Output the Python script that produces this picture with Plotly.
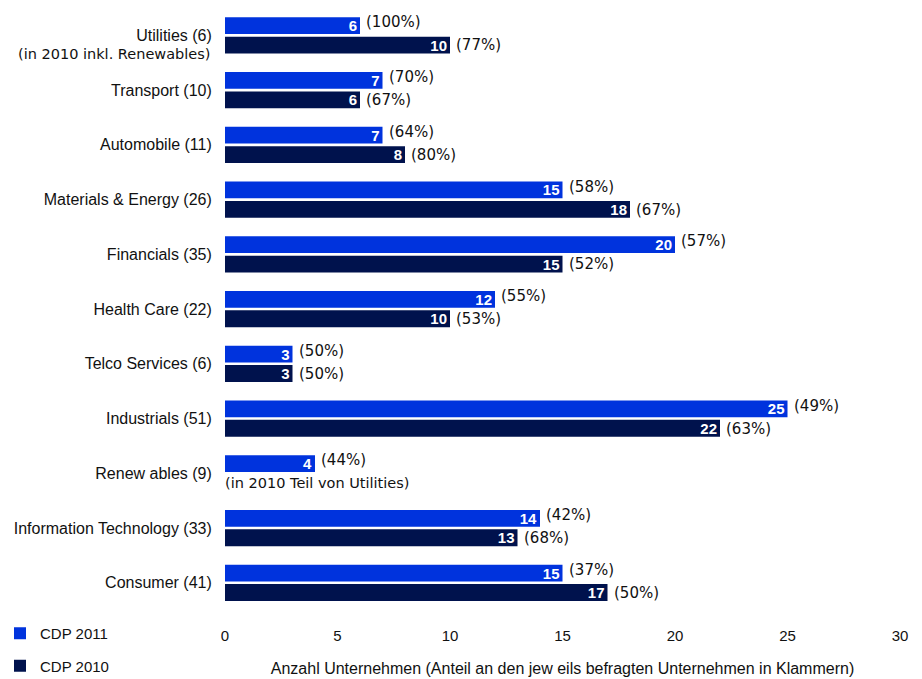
import plotly.graph_objects as go

categories = ["Utilities (6)", "Transport (10)", "Automobile (11)", "Materials & Energy (26)",
              "Financials (35)", "Health Care (22)", "Telco Services (6)", "Industrials (51)",
              "Renew ables (9)", "Information Technology (33)", "Consumer (41)"]
cdp2011 = [6, 7, 7, 15, 20, 12, 3, 25, 4, 14, 15]
cdp2010 = [10, 6, 8, 18, 15, 10, 3, 22, None, 13, 17]
pct2011 = [100, 70, 64, 58, 57, 55, 50, 49, 44, 42, 37]
pct2010 = [77, 67, 80, 67, 52, 53, 50, 63, None, 68, 50]
xticks = [0, 5, 10, 15, 20, 25, 30]

BLUE = "#0033DD"
NAVY = "#00124D"
LABEL_FONT = "Liberation Sans, Arial, sans-serif"
PCT_FONT = "DejaVu Sans, Verdana, sans-serif"
TXT = "#111111"

fig = go.Figure()
fig.add_trace(go.Bar(
    y=categories, x=cdp2011, orientation="h", name="CDP 2011",
    marker=dict(color=BLUE, line=dict(width=0)),
    text=[str(v) for v in cdp2011], textposition="inside", insidetextanchor="end", textangle=0,
    textfont=dict(color="white", size=15, family=LABEL_FONT, weight="bold"),
    legendgroup="a", hoverinfo="skip"))
fig.add_trace(go.Bar(
    y=categories, x=cdp2010, orientation="h", name="CDP 2010",
    marker=dict(color=NAVY, line=dict(width=0)),
    text=["" if v is None else str(v) for v in cdp2010], textposition="inside",
    insidetextanchor="end", textangle=0,
    textfont=dict(color="white", size=15, family=LABEL_FONT, weight="bold"),
    legendgroup="b", hoverinfo="skip"))

annotations = []
for cat, v, p in zip(categories, cdp2011, pct2011):
    annotations.append(dict(x=v, y=cat, xref="x", yref="y", text=f"({p}%)", showarrow=False,
                            xanchor="left", yanchor="middle", xshift=4, yshift=13,
                            font=dict(family=PCT_FONT, size=15, color=TXT)))
for cat, v, p in zip(categories, cdp2010, pct2010):
    if v is None:
        continue
    annotations.append(dict(x=v, y=cat, xref="x", yref="y", text=f"({p}%)", showarrow=False,
                            xanchor="left", yanchor="middle", xshift=4, yshift=-10,
                            font=dict(family=PCT_FONT, size=15, color=TXT)))
annotations.append(dict(x=0, y="Utilities (6)", xref="paper", yref="y",
                        text="(in 2010 inkl. Renewables)", showarrow=False,
                        xanchor="right", yanchor="middle", xshift=-13, yshift=-19,
                        font=dict(family=PCT_FONT, size=14.5, color=TXT)))
annotations.append(dict(x=0, y="Renew ables (9)", xref="x", yref="y",
                        text="(in 2010 Teil von Utilities)", showarrow=False,
                        xanchor="left", yanchor="middle", xshift=-2, yshift=-10,
                        font=dict(family=PCT_FONT, size=14.5, color=TXT)))

fig.update_layout(
    width=922, height=679,
    margin=dict(l=225, r=22, t=8, b=54, autoexpand=False),
    paper_bgcolor="white", plot_bgcolor="white",
    barmode="group", bargap=0.29, bargroupgap=0.13,
    uniformtext=dict(minsize=15, mode="show"),
    annotations=annotations,
    font=dict(family=LABEL_FONT, size=14, color=TXT),
    xaxis=dict(range=[0, 30], tickvals=xticks, ticktext=[str(t) for t in xticks],
               showgrid=False, zeroline=False, showline=False, ticks="", automargin=False,
               tickfont=dict(size=15, family=LABEL_FONT),
               title=dict(text="Anzahl Unternehmen (Anteil an den jew eils befragten Unternehmen in Klammern)",
                          font=dict(size=16, family=LABEL_FONT), standoff=19)),
    yaxis=dict(categoryorder="array", categoryarray=categories, range=[10.77, -0.5],
               showgrid=False, zeroline=False, showline=False, ticks="outside", automargin=False,
               ticklen=9, tickcolor="rgba(0,0,0,0)",
               tickfont=dict(size=16, family=LABEL_FONT)),
    showlegend=True,
    legend=dict(xref="container", yref="container", x=0, y=1 - 617 / 679,
                xanchor="left", yanchor="top", orientation="v",
                tracegroupgap=10, itemwidth=30,
                font=dict(size=15, family=LABEL_FONT), bgcolor="rgba(0,0,0,0)"),
)

fig.write_html("out.html", config={"displayModeBar": False},
               post_script="document.body.style.margin='0';document.body.style.overflow='hidden';")
